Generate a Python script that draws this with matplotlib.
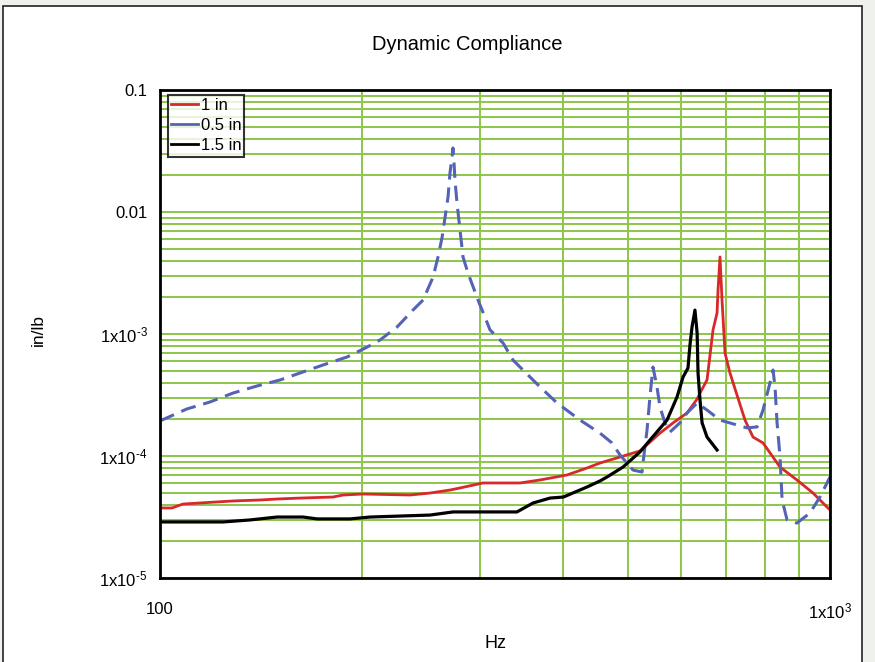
import matplotlib
matplotlib.use("Agg")
import matplotlib.pyplot as plt
from matplotlib.ticker import LogLocator, FixedLocator, FixedFormatter, NullFormatter
from matplotlib.patches import Rectangle

plt.rcParams['font.family'] = ['Liberation Sans', 'DejaVu Sans']
plt.rcParams['mathtext.fontset'] = 'custom'
plt.rcParams['mathtext.rm'] = 'Liberation Sans'
plt.rcParams['mathtext.it'] = 'Liberation Sans'

title = "Dynamic Compliance"
x_label = "Hz"
y_label = "in/lb"

# 1 in (red)
freq_1in = [100, 104.2, 108.2, 114.7, 128.5, 141.1, 149.5, 161.8, 181.2, 187.6, 201,
            236.1, 252.9, 270.9, 280.4, 303.4, 344.6, 369.2, 405.0, 433.8, 453.6, 485.9,
            520.5, 557.5, 583.3, 611.7, 633.4, 639.7, 655.3, 662.1, 669.0, 678.3, 680.6,
            685.2, 690.0, 697.1, 709.1, 726.4, 746.7, 767.5, 794.3, 842.2, 892.6, 943.3,
            989.7, 1000]
comp_1in = [3.75e-5, 3.75e-5, 4.04e-5, 4.12e-5, 4.28e-5, 4.36e-5, 4.44e-5, 4.52e-5, 4.61e-5,
            4.79e-5, 4.88e-5, 4.79e-5, 4.97e-5, 5.26e-5, 5.47e-5, 6.01e-5, 6.01e-5, 6.36e-5,
            6.99e-5, 7.97e-5, 8.76e-5, 9.81e-5, 1.10e-4, 1.54e-4, 1.87e-4, 2.25e-4, 2.93e-4,
            3.28e-4, 4.20e-4, 6.73e-4, 1.08e-3, 1.49e-3, 2.30e-3, 4.28e-3, 1.90e-3, 6.99e-4,
            4.79e-4, 3.16e-4, 1.97e-4, 1.43e-4, 1.28e-4, 8.12e-5, 6.36e-5, 4.97e-5, 3.82e-5,
            3.61e-5]

# 0.5 in (blue dashed)
freq_05in = [100, 109.7, 118.7, 128.5, 139.6, 151.1, 161.8, 175.1, 190.2, 203.7, 213.0,
             225.8, 238.5, 247.0, 255.6, 260.0, 263.7, 266.4, 269.1, 270.9, 272.8, 273.7,
             274.7, 275.6, 277.5, 280.4, 283.3, 288.2, 298.3, 310.9, 325.1, 336.4, 344.6,
             369.2, 391.4, 423.6, 453.6, 472.7, 485.9, 508.2, 524.1, 525.9, 533.2, 538.6,
             544.2, 551.8, 557.5, 567.1, 576.8, 597.0, 611.7, 633.4, 655.3, 685.2, 751.9,
             778.2, 794.3, 813.6, 822.2, 827.8, 833.7, 842.2, 848.2, 862.9, 892.6, 933.5,
             966, 1000]
comp_05in = [1.94e-4, 2.43e-4, 2.77e-4, 3.28e-4, 3.75e-4, 4.20e-4, 4.79e-4, 5.57e-4, 6.48e-4,
             7.80e-4, 8.93e-4, 1.14e-3, 1.57e-3, 1.90e-3, 2.93e-3, 4.28e-3, 6.24e-3, 9.10e-3,
             1.33e-2, 2.09e-2, 2.82e-2, 3.35e-2, 2.52e-2, 1.83e-2, 1.19e-2, 7.12e-3, 4.28e-3,
             3.16e-3, 1.90e-3, 1.08e-3, 8.44e-4, 6.12e-4, 5.36e-4, 3.68e-4, 2.72e-4, 1.97e-4,
             1.54e-4, 1.28e-4, 1.02e-4, 7.67e-5, 7.39e-5, 8.76e-5, 1.63e-4, 3.05e-4, 5.36e-4,
             3.68e-4, 2.52e-4, 1.87e-4, 1.57e-4, 1.87e-4, 2.25e-4, 2.72e-4, 2.38e-4, 1.97e-4,
             1.70e-4, 1.73e-4, 2.38e-4, 3.97e-4, 5.07e-4, 3.68e-4, 1.87e-4, 9.81e-5, 4.36e-5,
             2.99e-5, 2.82e-5, 3.41e-5, 4.61e-5, 6.73e-5]

# 1.5 in (black)
freq_15in = [100, 124.2, 136.2, 149.5, 163.5, 171.6, 192.1, 205.8, 252.9, 273.7, 341.0,
             360.4, 382.1, 400, 433.8, 453.6, 464.7, 491.0, 520.5, 538.6, 571.2, 591.2,
             603.5, 613.8, 618.0, 622.4, 628.7, 633.4, 635.4, 639.7, 644.3, 655.3, 678.3]
comp_15in = [2.88e-5, 2.88e-5, 2.99e-5, 3.16e-5, 3.16e-5, 3.05e-5, 3.05e-5, 3.16e-5, 3.28e-5,
             3.48e-5, 3.48e-5, 4.12e-5, 4.52e-5, 4.61e-5, 5.57e-5, 6.24e-5, 6.73e-5, 8.12e-5,
             1.08e-4, 1.35e-4, 1.97e-4, 3.05e-4, 4.44e-4, 5.26e-4, 8.12e-4, 1.14e-3, 1.57e-3,
             1.02e-3, 4.79e-4, 2.88e-4, 1.87e-4, 1.43e-4, 1.12e-4]

y_ticks = [1e-5, 1e-4, 1e-3, 1e-2, 1e-1]
y_tick_labels = ["1x10$^{\\text{-5}}$", "1x10$^{\\text{-4}}$", "1x10$^{\\text{-3}}$", "0.01", "0.1"]
x_ticks = [100, 1000]
x_tick_labels = ["100", "1x10$^{\\text{3}}$"]

fig = plt.figure(figsize=(8.75, 6.62), dpi=100)
fig.patch.set_facecolor('#eef1ec')
fig.patches.append(Rectangle((3 / 875, -0.01), 859 / 875, 1 - 6 / 662 + 0.01,
                             transform=fig.transFigure, facecolor='white',
                             edgecolor='#222222', linewidth=1.2, zorder=-10))

ax = fig.add_axes([160 / 875, 84 / 662, 670 / 875, 488 / 662])
ax.set_xscale('log')
ax.set_yscale('log')
ax.set_xlim(100, 1000)
ax.set_ylim(1e-5, 1e-1)

grid_color = '#8cc64a'
ax.xaxis.set_minor_locator(LogLocator(base=10, subs=range(2, 10)))
ax.yaxis.set_minor_locator(LogLocator(base=10, subs=range(2, 10)))
ax.xaxis.set_minor_formatter(NullFormatter())
ax.yaxis.set_minor_formatter(NullFormatter())
ax.grid(True, which='both', color=grid_color, linewidth=1.4)
ax.set_axisbelow(True)

ax.yaxis.set_major_locator(FixedLocator(y_ticks))
ax.yaxis.set_major_formatter(FixedFormatter(y_tick_labels))
ax.xaxis.set_major_locator(FixedLocator(x_ticks))
ax.xaxis.set_major_formatter(FixedFormatter(x_tick_labels))
ax.tick_params(which='both', length=0)
ax.tick_params(axis='y', pad=9, labelsize=12)
ax.tick_params(axis='x', pad=17, labelsize=12)

for s in ax.spines.values():
    s.set_linewidth(2.0)
    s.set_color('black')

ax.plot(freq_1in, comp_1in, color='#d8282a', linewidth=2.0, label='1 in')
ax.plot(freq_05in, comp_05in, color='#5463b6', linewidth=2.2, dashes=(5, 2.6), label='0.5 in')
ax.plot(freq_15in, comp_15in, color='black', linewidth=2.3, label='1.5 in')

leg = ax.legend(loc='upper left', bbox_to_anchor=(0.012, 0.99), borderaxespad=0,
                fontsize=12, frameon=True, fancybox=False, handlelength=1.6,
                handletextpad=0.15, labelspacing=0.3, borderpad=0.2)
leg.get_frame().set_edgecolor('black')
leg.get_frame().set_linewidth(1.5)
for h in leg.get_lines():
    h.set_linestyle('-')
    h.set_linewidth(2)

fig.text(467 / 875, 1 - 44 / 662, title, ha='center', va='center', fontsize=14.5)
fig.text(495 / 875, 1 - 643 / 662, x_label, ha='center', va='center', fontsize=13)
fig.text(38 / 875, 1 - 330 / 662, y_label, ha='center', va='center', fontsize=12.5, rotation=90)

fig.savefig('out.png', dpi=100)
